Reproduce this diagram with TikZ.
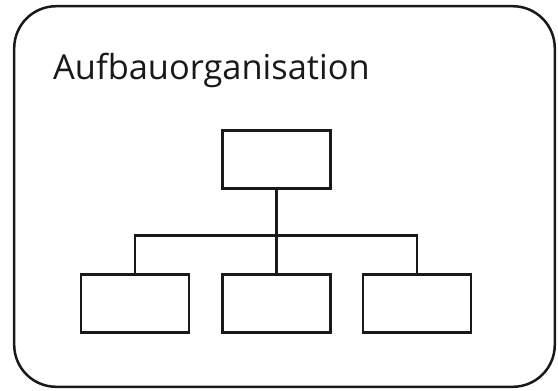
\documentclass[tikz,border=0pt]{standalone}
\usepackage{fontspec}
\setmainfont{Open Sans}
\begin{document}
\begin{tikzpicture}[x=1pt,y=-1pt,
  orgbox/.style={draw=black!90, line width=2.8pt, minimum width=108pt, minimum height=58pt, inner sep=0pt},
  conn/.style={draw=black!90, line width=2.6pt}]
\useasboundingbox (0,0) rectangle (558,391);
\draw[black!90, line width=2.5pt, rounded corners=42pt] (14.2,6.2) rectangle (554.8,386.8);
\node[anchor=base west, inner sep=0pt, font=\fontsize{34.4}{40}\selectfont, text=black!90] (title) at (53,79.3) {Aufbauorganisation};
\node[orgbox] (top) at (276.4,159.5) {};
\node[orgbox] (b1) at (135,303.6) {};
\node[orgbox] (b2) at (276.4,303.6) {};
\node[orgbox] (b3) at (417,303.6) {};
\coordinate (j) at (276.4,235.3);
\draw[conn] (top.south) -- (b2.north);
\draw[conn] (b1.north) |- (j) -| (b3.north);
\end{tikzpicture}
\end{document}
